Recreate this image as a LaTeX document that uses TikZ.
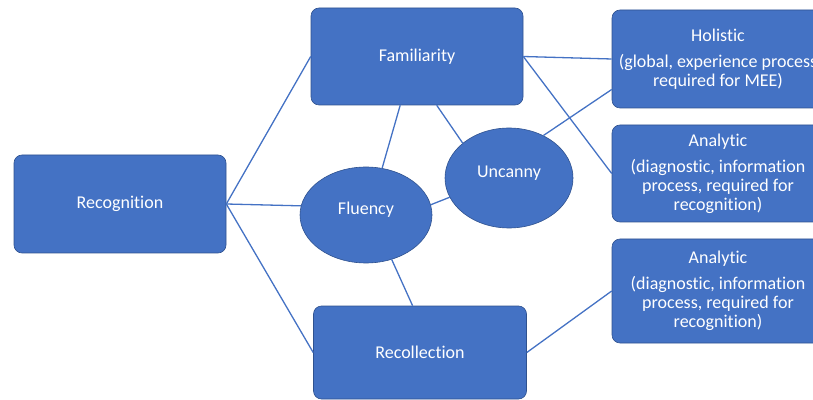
\documentclass[tikz,border=0pt]{standalone}
\usepackage{fontspec}
\setmainfont{Carlito}[Ligatures={NoCommon}]
\usepackage{tikz}
\usetikzlibrary{positioning,shapes.geometric}
\definecolor{officeblue}{HTML}{4472C4}
\definecolor{officeedge}{HTML}{2F528F}

\begin{document}
\begin{tikzpicture}[x=1pt,y=1pt,on grid,font=\fontsize{18pt}{19pt}\selectfont,
        box/.style={rectangle,rounded corners=8pt,fill=officeblue,draw=officeedge,line width=0.6pt,
            text=white,align=center,inner sep=0pt,minimum width=212pt,minimum height=97pt},
        blob/.style={ellipse,fill=officeblue,draw=officeedge,line width=0.6pt,
            text=white,inner sep=0pt,text height=12pt,text depth=13pt},
        link/.style={draw=officeblue,line width=1.3pt}]
        \useasboundingbox (0,0) rectangle (813,399);
        \clip (0,0) rectangle (813,399);
        \node[box,minimum height=98pt]  (recog)   at (120,195)                           {Recognition};
        \node[box]                      (famil)   [above right=147.5pt and 297pt of recog] {Familiarity};
        \node[box,minimum width=213pt,minimum height=93pt]
                                        (recoll)  [below right=148.5pt and 300pt of recog] {Recollection};
        \node[blob,minimum width=132pt,minimum height=96pt]
                                        (fluency) [below right=11pt and 246pt of recog]    {Fluency};
        \node[blob,minimum width=128pt,minimum height=100pt]
                                        (uncanny) [above right=37pt and 143pt of fluency]  {Uncanny};
        \node[box,minimum height=98pt]  (holistic) [below right=2.5pt and 301pt of famil]
            {Holistic\\[7pt](global, experience process\\required for MEE)};
        \node[box]                      (ana_1)   [below=114.5pt of holistic]
            {Analytic\\[7pt](diagnostic, information\\process, required for\\recognition)};
        \node[box,minimum height=104pt] (ana_2)   [below=117.5pt of ana_1]
            {Analytic\\[7pt](diagnostic, information\\process, required for\\recognition)};
        \path[link]
        (recog.east)   edge (famil.west)
                       edge (fluency.172)
                       edge (recoll.west)
        (famil.251)    edge (fluency.71)
        (famil.292)    edge (uncanny.143)
        (famil.east)   edge (holistic.west)
                       edge (ana_1.west)
        (uncanny.51)   edge (holistic.196)
        (fluency.9)    edge (uncanny.198)
        (fluency.300)  edge (recoll.99)
        (recoll.east)  edge (ana_2.west)
        ;
\end{tikzpicture}
\end{document}
